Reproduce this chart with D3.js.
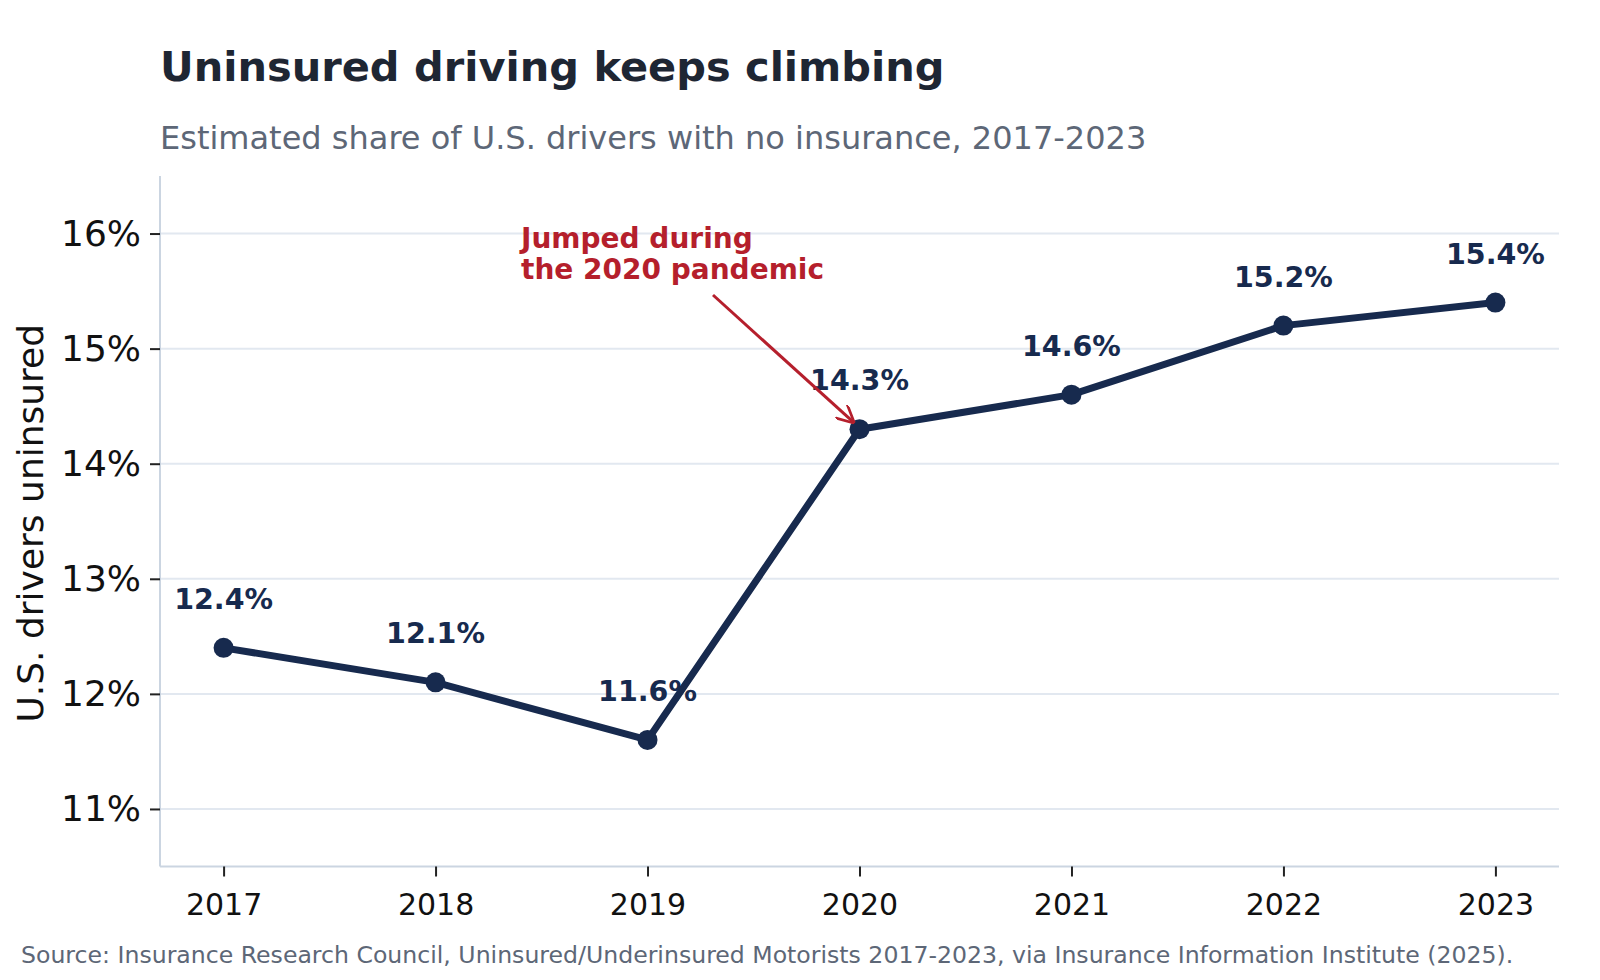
<!DOCTYPE html>
<html>
<head>
<meta charset="utf-8">
<script src="https://cdn.jsdelivr.net/npm/d3@7"></script>
<style>
  body { margin: 0; background: #ffffff; }
  svg { display: block; font-family: "DejaVu Sans", sans-serif; }
</style>
</head>
<body>
<script>
"use strict";

// data
var years = [2017, 2018, 2019, 2020, 2021, 2022, 2023];
var uninsured = [12.4, 12.1, 11.6, 14.3, 14.6, 15.2, 15.4];
var yTicks = [11, 12, 13, 14, 15, 16];
var annotationLines = ["Jumped during", "the 2020 pandemic"];
var annotationYear = 2020;

function draw_chart() {
    var width = 1600;
    var height = 980;
    var margin = {top: 176, right: 41, bottom: 113.5, left: 160};

    var svg = d3.select("body")
        .append("svg")
        .attr("width", width)
        .attr("height", height);

    var x = d3.scaleLinear()
        .domain([2016.7, 2023.3])
        .range([margin.left, width - margin.right]);
    var y = d3.scaleLinear()
        .domain([10.5, 16.5])
        .range([height - margin.bottom, margin.top]);

    // grid
    svg.append("g")
        .selectAll("line")
        .data(yTicks)
        .enter()
        .append("line")
        .attr("x1", margin.left)
        .attr("x2", width - margin.right)
        .attr("y1", function(d) { return y(d); })
        .attr("y2", function(d) { return y(d); })
        .attr("stroke", "#e2e8f0")
        .attr("stroke-width", 2);

    // axes
    var yAxis = svg.append("g")
        .attr("transform", "translate(" + margin.left + ",0)")
        .call(d3.axisLeft(y)
            .tickValues(yTicks)
            .tickFormat(function(d) { return d + "%"; })
            .tickSize(10)
            .tickPadding(9));
    var xAxis = svg.append("g")
        .attr("transform", "translate(0," + (height - margin.bottom) + ")")
        .call(d3.axisBottom(x)
            .tickValues(years)
            .tickFormat(d3.format("d"))
            .tickSize(10)
            .tickPadding(10));

    [yAxis, xAxis].forEach(function(a) {
        a.select(".domain").attr("stroke", "#cbd5e1").attr("stroke-width", 2);
        a.selectAll(".tick line").attr("stroke", "#222222").attr("stroke-width", 2);
        a.selectAll(".tick text")
            .attr("fill", "#111111")
            .style("font-family", "DejaVu Sans");
    });
    // only left and bottom spines, no end caps
    yAxis.select(".domain").attr("d", "M0," + margin.top + "V" + (height - margin.bottom));
    xAxis.select(".domain").attr("d", "M" + margin.left + ",0H" + (width - margin.right));
    yAxis.selectAll(".tick text").style("font-size", "36px");
    xAxis.selectAll(".tick text").style("font-size", "30px").attr("dy", "0.95em");

    // axis title
    svg.append("text")
        .attr("transform", "translate(43," + ((margin.top + height - margin.bottom) / 2 + 2) + ")rotate(-90)")
        .attr("text-anchor", "middle")
        .style("font-size", "36px")
        .attr("fill", "#111111")
        .text("U.S. drivers uninsured");

    // line
    var line = d3.line()
        .x(function(d, i) { return x(years[i]); })
        .y(function(d) { return y(d); });
    svg.append("path")
        .datum(uninsured)
        .attr("d", line)
        .attr("fill", "none")
        .attr("stroke", "#172a4e")
        .attr("stroke-width", 7)
        .attr("stroke-linejoin", "round");

    svg.selectAll("circle.pt")
        .data(uninsured)
        .enter()
        .append("circle")
        .attr("class", "pt")
        .attr("cx", function(d, i) { return x(years[i]); })
        .attr("cy", function(d) { return y(d); })
        .attr("r", 10)
        .attr("fill", "#172a4e");

    // value labels
    svg.selectAll("text.val")
        .data(uninsured)
        .enter()
        .append("text")
        .attr("class", "val")
        .attr("x", function(d, i) { return x(years[i]); })
        .attr("y", function(d) { return y(d) - 39; })
        .attr("text-anchor", "middle")
        .style("font-size", "28.5px")
        .style("font-weight", "bold")
        .attr("fill", "#172a4e")
        .text(function(d) { return d.toFixed(1) + "%"; });

    // annotation
    var red = "#b51f2c";
    svg.append("defs").append("marker")
        .attr("id", "head")
        .attr("viewBox", "0 0 10 10")
        .attr("refX", 10)
        .attr("refY", 5)
        .attr("markerWidth", 6)
        .attr("markerHeight", 6)
        .attr("markerUnits", "strokeWidth")
        .attr("orient", "auto")
        .append("path")
        .attr("d", "M0,0L10,5L0,10")
        .attr("fill", "none")
        .attr("stroke", red)
        .attr("stroke-width", 1.5);

    var ai = years.indexOf(annotationYear);
    var tx = x(annotationYear);
    var ty = y(uninsured[ai]);
    svg.append("line")
        .attr("x1", 713)
        .attr("y1", 295)
        .attr("x2", tx - 5)
        .attr("y2", ty - 6)
        .attr("stroke", red)
        .attr("stroke-width", 3)
        .attr("marker-end", "url(#head)");

    svg.append("text")
        .attr("x", 521)
        .attr("y", 248)
        .style("font-size", "28px")
        .style("font-weight", "bold")
        .attr("fill", red)
        .selectAll("tspan")
        .data(annotationLines)
        .enter()
        .append("tspan")
        .attr("x", 521)
        .attr("dy", function(d, i) { return i === 0 ? 0 : 31; })
        .text(function(d) { return d; });

    // titles
    svg.append("text")
        .attr("x", 160)
        .attr("y", 81)
        .style("font-size", "41.5px")
        .style("font-weight", "bold")
        .attr("fill", "#1e2633")
        .text("Uninsured driving keeps climbing");
    svg.append("text")
        .attr("x", 160)
        .attr("y", 149)
        .style("font-size", "32px")
        .attr("fill", "#5d6777")
        .text("Estimated share of U.S. drivers with no insurance, 2017-2023");

    // source
    svg.append("text")
        .attr("x", 21)
        .attr("y", 963)
        .style("font-size", "23.6px")
        .attr("fill", "#5d6777")
        .text("Source: Insurance Research Council, Uninsured/Underinsured Motorists 2017-2023, via Insurance Information Institute (2025).");
}

// run
draw_chart();
</script>
</body>
</html>
